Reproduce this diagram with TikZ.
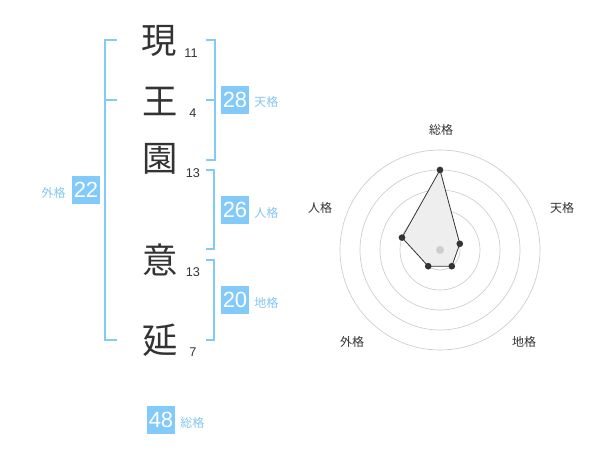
\documentclass[tikz,border=0pt]{standalone}
\usepackage{fontspec}
\setmainfont{Liberation Sans}
\newfontfamily\cjk{Noto Sans CJK JP}
\definecolor{boxblue}{RGB}{130,202,250}
\definecolor{lblblue}{RGB}{130,198,240}
\definecolor{ink}{RGB}{51,51,51}
\definecolor{ringgray}{RGB}{205,205,205}
\definecolor{polyfill}{RGB}{238,238,238}
\begin{document}
\begin{tikzpicture}[x=0.75pt,y=-0.75pt,
  kanji/.style={font=\cjk\fontsize{26.5}{26.5}\selectfont, text=ink, inner sep=0pt},
  stroke/.style={font=\fontsize{9.5}{10}\selectfont, text=ink, inner sep=0pt},
  valbox/.style={fill=boxblue, text=white, minimum width=21pt, minimum height=21pt, inner sep=0pt, font=\fontsize{16.5}{16.5}\selectfont},
  kaku/.style={font=\cjk\fontsize{9}{9}\selectfont, text=lblblue, inner sep=0pt},
  brk/.style={draw=boxblue, line width=1.5pt},
  ring/.style={draw=ringgray, line width=0.5pt},
  axlbl/.style={font=\cjk\fontsize{9}{9}\selectfont, text=ink, inner sep=0pt},
  dot/.style={circle, fill=ink, inner sep=0pt, minimum size=5pt}
]
\useasboundingbox (0,0) rectangle (600,470);
% kanji
\node[kanji] (k1) at (159,41) {現};
\node[kanji] (k2) at (160,101) {王};
\node[kanji] (k3) at (160,159) {園};
\node[kanji] (k4) at (160,260) {意};
\node[kanji] (k5) at (160,340) {延};
\node[stroke] (s1) at (191,53) {11};
\node[stroke] (s2) at (193,113) {4};
\node[stroke] (s3) at (193,173) {13};
\node[stroke] (s4) at (193,272) {13};
\node[stroke] (s5) at (193,352) {7};
% brackets
\draw[brk] (117,40) -- (105,40) -- (105,340) -- (117,340);
\draw[brk] (105,100) -- (117,100);
\draw[brk] (206,40) -- (215,40) -- (215,160) -- (206,160);
\draw[brk] (206,100) -- (215,100);
\draw[brk] (206,170) -- (214,170) -- (214,249) -- (206,249);
\draw[brk] (206,260) -- (214,260) -- (214,340) -- (206,340);
% value boxes
\node[valbox] (ten) at (235,100) {28};
\node[kaku, anchor=west] (tenl) at (254,102) {天格};
\node[valbox] (jin) at (235,210) {26};
\node[kaku, anchor=west] (jinl) at (254,213) {人格};
\node[valbox] (chi) at (235,300) {20};
\node[kaku, anchor=west] (chil) at (254,303) {地格};
\node[valbox] (gai) at (86,190) {22};
\node[kaku, anchor=east] (gail) at (66,193) {外格};
\node[valbox] (sou) at (161,420) {48};
\node[kaku, anchor=west] (soul) at (180,423) {総格};
% radar
\coordinate (c) at (440,250);
\foreach \r in {20,40,60,80,100} \draw[ring] (c) circle[radius=\r];
\coordinate (p1) at (440,170);
\coordinate (p2) at (459.8,243.8);
\coordinate (p3) at (451.8,266.2);
\coordinate (p4) at (428.2,266.2);
\coordinate (p5) at (402,237.6);
\draw[fill=polyfill, draw=ink, line width=0.6pt, line join=round] (p1) -- (p2) -- (p3) -- (p4) -- (p5) -- cycle;
\foreach \p in {p1,p2,p3,p4,p5} \node[dot] at (\p) {};
\node[circle, fill=ringgray, inner sep=0pt, minimum size=6pt] (cd) at (c) {};
\node[axlbl] (a1) at (441,130) {総格};
\node[axlbl] (a2) at (562,208) {天格};
\node[axlbl] (a3) at (524,342) {地格};
\node[axlbl] (a4) at (352,342) {外格};
\node[axlbl] (a5) at (320,208) {人格};
\end{tikzpicture}
\end{document}
